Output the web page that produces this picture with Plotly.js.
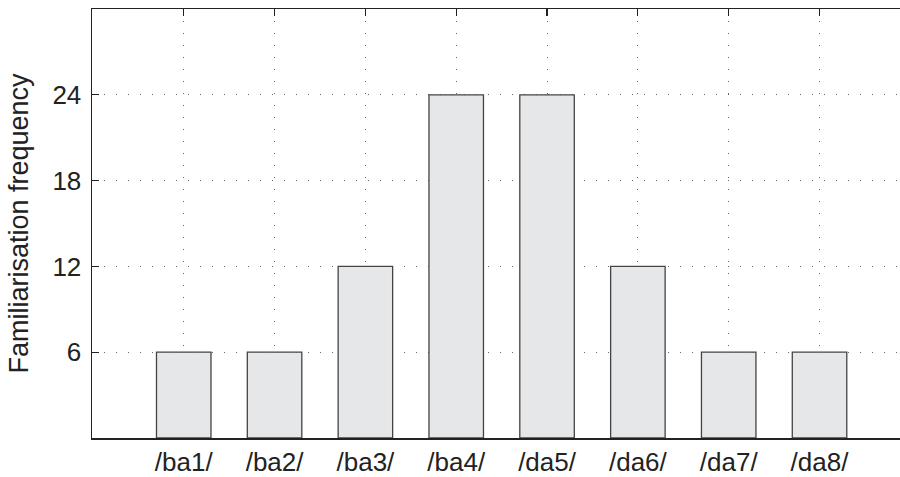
<!DOCTYPE html>
<html>
<head>
<meta charset="utf-8">
<script src="https://cdn.plot.ly/plotly-3.0.1.min.js"></script>
<style>html,body{margin:0;padding:0;background:#fff}#chart{width:900px;height:477px}</style>
</head>
<body>
<div id="chart"></div>
<script>
const categories = ['/ba1/', '/ba2/', '/ba3/', '/ba4/', '/da5/', '/da6/', '/da7/', '/da8/'];
const frequency = [6, 6, 12, 24, 24, 12, 6, 6];
const yTicks = [6, 12, 18, 24];
const yTitle = 'Familiarisation frequency';

const font = {family: '"Liberation Sans", Arial, Helvetica, sans-serif', size: 26, color: '#222'};
const titleFont = {family: '"Liberation Sans", Arial, Helvetica, sans-serif', size: 27, color: '#222'};

const trace = {
  type: 'bar',
  x: categories,
  y: frequency,
  width: 0.6,
  marker: {color: '#e6e7e9', line: {color: '#444', width: 1.3}},
  hoverinfo: 'none'
};

const layout = {
  width: 900, height: 477,
  margin: {l: 92, r: 0, t: 9, b: 39},
  paper_bgcolor: '#fff', plot_bgcolor: '#fff',
  font: font,
  showlegend: false,
  bargap: 0.4,
  xaxis: {
    type: 'category',
    range: [-1.01, 7.886],
    showline: true, linecolor: '#222', linewidth: 1.5,
    mirror: 'ticks',
    ticks: 'inside', ticklen: 7, tickcolor: '#222', tickwidth: 1.2,
    showgrid: true, gridcolor: '#666', gridwidth: 1, griddash: '1px,11px',
    tickfont: font,
    layer: 'below traces',
    zeroline: false,
    fixedrange: true
  },
  yaxis: {
    range: [0, 30],
    tickvals: yTicks,
    ticktext: yTicks.map(String),
    showline: true, linecolor: '#222', linewidth: 1.5,
    mirror: false,
    ticks: 'inside', ticklen: 7, tickcolor: '#222', tickwidth: 1.2,
    ticklabelstandoff: 4,
    showgrid: true, gridcolor: '#666', gridwidth: 1, griddash: '1px,11px',
    zeroline: false,
    tickfont: font,
    layer: 'below traces',
    title: {text: yTitle, font: titleFont, standoff: 16},
    fixedrange: true
  }
};

Plotly.newPlot('chart', [trace], layout, {displayModeBar: false, staticPlot: true});
</script>
</body>
</html>
